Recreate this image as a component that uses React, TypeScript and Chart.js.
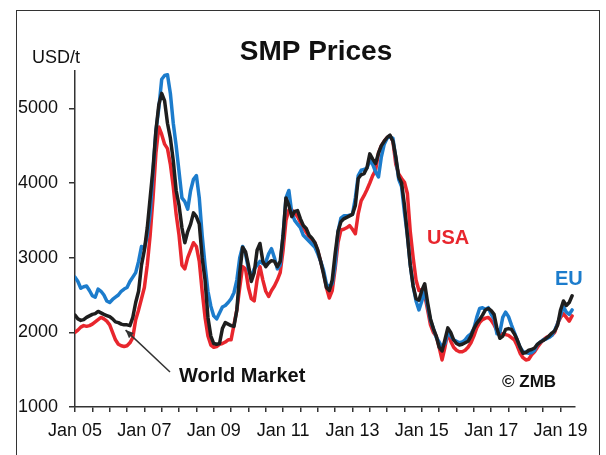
import React, { useEffect, useRef } from 'react';
import { Chart, registerables } from 'chart.js';

Chart.register(...registerables);

// Monthly SMP prices (USD/t), Jan 2005 .. May 2019 (index 0 = Jan 2005)
const tickLabels = ['Jan 05', 'Jan 07', 'Jan 09', 'Jan 11', 'Jan 13', 'Jan 15', 'Jan 17', 'Jan 19'];
const yTicks = [1000, 2000, 3000, 4000, 5000];

const worldMarket = [
  2230, 2180, 2160, 2170, 2200, 2220, 2240, 2250, 2280, 2260, 2240, 2225,
  2210, 2180, 2140, 2130, 2110, 2100, 2100, 2090, 2200, 2400, 2550, 2900,
  3100, 3400, 3800, 4200, 4700, 5050, 5200, 5100, 4800, 4600, 4300, 3900,
  3700, 3400, 3200, 3350, 3450, 3600, 3550, 3450, 3000, 2700, 2200, 1950,
  1850, 1840, 1850, 2050, 2130, 2110, 2090, 2080, 2300, 2800, 3140, 3080,
  2900, 2680, 2800, 3100, 3190, 2950, 2880, 2930, 2960, 2950, 2880, 2950,
  3300, 3800, 3700, 3550, 3620, 3630, 3520, 3430, 3390, 3300, 3260, 3200,
  3100, 2950, 2780, 2600, 2560, 2700, 3050, 3350, 3480, 3520, 3540, 3560,
  3580, 3700, 4060, 4110, 4125, 4200, 4390, 4320, 4260, 4400, 4500, 4560,
  4610, 4640, 4560, 4350, 4080, 4000, 3700, 3300, 2900, 2620, 2450, 2430,
  2560, 2650, 2400, 2180, 2050, 1950, 1800, 1750, 1900, 2060, 2000, 1900,
  1850, 1830, 1840, 1860, 1880, 1950, 2050, 2120, 2170, 2230, 2300, 2320,
  2290, 2240, 2050, 1920, 1950, 2040, 2050, 2040, 1980, 1900, 1800, 1720,
  1730, 1760, 1770, 1790, 1840, 1870, 1890, 1920, 1950, 1990, 2020, 2100,
  2300, 2420, 2360, 2400, 2490,
];

const eu = [
  2740, 2680, 2590, 2610, 2620, 2560, 2490, 2470, 2580, 2550, 2500, 2420,
  2400, 2440, 2470, 2500, 2550, 2580, 2600, 2680, 2740, 2800, 2950, 3150,
  3120, 3300, 3600, 4150, 4700, 5000, 5390, 5440, 5450, 5200, 4800, 4500,
  4150, 3800, 3750, 3650, 3900, 4050, 4100, 3800, 3300, 2900, 2550, 2350,
  2220, 2180, 2260, 2340, 2360, 2400, 2450, 2530, 2700, 3000, 3150, 3050,
  2850, 2740, 2850, 2900, 2950, 2920, 2940, 3050, 3120, 3000, 2850, 2900,
  3300, 3800, 3900, 3600, 3500, 3450, 3400, 3300, 3260, 3220, 3180, 3140,
  3050, 2950, 2830, 2650, 2600, 2650, 2900, 3350, 3530, 3560, 3560, 3570,
  3580, 3800, 4100, 4170, 4180, 4200, 4300, 4250, 4150, 4080, 4350, 4520,
  4600, 4620, 4600, 4330, 4050, 3950, 3600, 3300, 2900, 2620, 2420, 2300,
  2420, 2550, 2350, 2160, 2050, 1930, 1870, 1800, 1850, 2000, 1950, 1900,
  1880, 1860, 1870, 1900, 1950, 1980, 2050, 2200, 2320, 2330, 2310, 2330,
  2240, 2180, 1980, 2000, 2200, 2270, 2210, 2100, 2000, 1900, 1800, 1740,
  1730, 1720, 1730, 1760, 1840, 1870, 1900, 1910, 1930, 1960, 2030, 2120,
  2230, 2340, 2270, 2240, 2300,
];

const usa = [
  2000, 2030, 2070, 2090, 2080, 2090, 2110, 2140, 2170, 2200, 2180, 2150,
  2100, 2000, 1900, 1840, 1820, 1810, 1820, 1860, 1930, 2170, 2300, 2450,
  2600, 2900, 3300, 3800, 4400, 4750, 4650, 4520, 4460, 4250, 3950, 3580,
  3300, 2900, 2850, 3000, 3100, 3200, 3150, 2950, 2550, 2200, 1950, 1830,
  1800, 1810, 1840, 1850, 1870, 1900, 1900, 2100, 2300, 2600, 2880, 2850,
  2600, 2450, 2420, 2700, 2880, 2700, 2550, 2480, 2560, 2620, 2700, 2800,
  3100, 3500, 3640, 3640, 3600, 3550, 3470, 3400, 3340, 3280, 3240, 3200,
  3090, 2950, 2800, 2600, 2460, 2560, 2850, 3200, 3370, 3380, 3400, 3430,
  3380, 3320, 3590, 3760, 3830, 3910, 4000, 4100, 4170, 4400, 4500, 4560,
  4610, 4630, 4560, 4250, 4120, 4060, 4010, 3860, 3350, 3000, 2700, 2560,
  2570, 2500, 2300, 2100, 2000, 1950, 1800, 1630, 1800, 2000, 1880, 1800,
  1760, 1740, 1740, 1760, 1800, 1860, 1950, 2060, 2130, 2170, 2190, 2200,
  2160, 2100, 2020, 1990, 1980, 1970, 1960, 1930, 1900, 1820, 1720, 1660,
  1630, 1640, 1700, 1740, 1800, 1850, 1900, 1930, 1950, 1960, 2000, 2120,
  2200, 2250, 2200, 2150, 2220,
];

const FONT = '"Liberation Sans", Arial, Helvetica, sans-serif';
const RED = '#e8262d';
const BLUE = '#1c7ccc';
const BLACK = '#1e1e1e';

const toPoints = (arr: number[]) => arr.map((v, i) => ({ x: i, y: v }));

const annotations = {
  id: 'annotations',
  afterDraw(chart: any) {
    const ctx = chart.ctx as CanvasRenderingContext2D;
    const xs = chart.scales.x;
    const ys = chart.scales.y;
    ctx.save();
    ctx.textBaseline = 'alphabetic';
    ctx.textAlign = 'left';

    ctx.fillStyle = '#111';
    ctx.font = `bold 28px ${FONT}`;
    ctx.textAlign = 'center';
    ctx.fillText('SMP Prices', 316, 60);

    ctx.textAlign = 'left';
    ctx.font = `18px ${FONT}`;
    ctx.fillText('USD/t', 32, 63);

    ctx.font = `bold 20px ${FONT}`;
    ctx.fillStyle = RED;
    ctx.fillText('USA', 427, 244);
    ctx.fillStyle = BLUE;
    ctx.fillText('EU', 555, 285);
    ctx.fillStyle = '#111';
    ctx.fillText('World Market', 179, 382);
    ctx.font = `bold 17px ${FONT}`;
    ctx.fillText('\u00A9 ZMB', 502, 387);

    // arrow pointing to the World Market line
    const tx = xs.getPixelForValue(17.5);
    const ty = ys.getPixelForValue(2030);
    const sx = 170;
    const sy = 372;
    ctx.strokeStyle = '#333';
    ctx.fillStyle = '#333';
    ctx.lineWidth = 1.5;
    ctx.beginPath();
    ctx.moveTo(sx, sy);
    ctx.lineTo(tx, ty);
    ctx.stroke();
    const ang = Math.atan2(ty - sy, tx - sx);
    const L = 8;
    const W = 3.5;
    ctx.beginPath();
    ctx.moveTo(tx, ty);
    ctx.lineTo(tx - L * Math.cos(ang) + W * Math.sin(ang), ty - L * Math.sin(ang) - W * Math.cos(ang));
    ctx.lineTo(tx - L * Math.cos(ang) - W * Math.sin(ang), ty - L * Math.sin(ang) + W * Math.cos(ang));
    ctx.closePath();
    ctx.fill();
    ctx.restore();
  },
};

export default function App() {
  const ref = useRef<HTMLCanvasElement | null>(null);

  useEffect(() => {
    if (!ref.current) return;
    const chart = new Chart(ref.current, {
      type: 'line',
      data: {
        datasets: [
          { label: 'World Market', data: toPoints(worldMarket), borderColor: BLACK, borderWidth: 3.5 },
          { label: 'EU', data: toPoints(eu), borderColor: BLUE, borderWidth: 3.5 },
          { label: 'USA', data: toPoints(usa), borderColor: RED, borderWidth: 3.5 },
        ],
      },
      options: {
        animation: false,
        responsive: false,
        devicePixelRatio: 1,
        layout: { padding: { left: 0, top: 71, right: 31, bottom: 0 } },
        elements: {
          point: { radius: 0 },
          line: { tension: 0, borderJoinStyle: 'round', borderCapStyle: 'round' },
        },
        plugins: {
          legend: { display: false },
          title: { display: false },
          tooltip: { enabled: false },
        },
        scales: {
          x: {
            type: 'linear',
            min: 0,
            max: 173,
            afterFit: (s: any) => { s.height = 48; },
            afterBuildTicks: (s: any) => {
              const t: { value: number }[] = [];
              for (let m = 0; m <= 168; m += 6) t.push({ value: m });
              s.ticks = t;
            },
            border: { display: true, color: '#333', width: 1.5 },
            grid: { display: true, drawOnChartArea: false, drawTicks: true, tickLength: 5, color: '#333', lineWidth: 1.5 },
            ticks: {
              autoSkip: false,
              maxRotation: 0,
              minRotation: 0,
              padding: 8,
              color: '#111',
              font: { family: FONT, size: 18 },
              callback: (v: any) => {
                const n = Number(v);
                return n % 24 === 0 ? tickLabels[n / 24] ?? '' : '';
              },
            },
          },
          y: {
            type: 'linear',
            min: 1000,
            max: 5500,
            afterFit: (s: any) => { s.width = 75; },
            afterBuildTicks: (s: any) => {
              s.ticks = yTicks.map((v) => ({ value: v }));
            },
            border: { display: true, color: '#333', width: 1.5 },
            grid: { display: true, drawOnChartArea: false, drawTicks: true, tickLength: 6, color: '#333', lineWidth: 1.5 },
            ticks: {
              autoSkip: false,
              padding: 11,
              color: '#111',
              font: { family: FONT, size: 18 },
              callback: (v: any) => String(v),
            },
          },
        },
      },
      plugins: [annotations],
    });
    return () => chart.destroy();
  }, []);

  return (
    <div style={{ position: 'fixed', left: 0, top: 0, width: 606, height: 455, background: '#fff', overflow: 'hidden' }}>
      <div
        style={{
          position: 'absolute',
          left: 16,
          top: 10,
          width: 584,
          height: 470,
          borderLeft: '1.5px solid #333',
          borderTop: '1.5px solid #333',
          borderRight: '1.5px solid #333',
          boxSizing: 'border-box',
        }}
      />
      <canvas ref={ref} width={606} height={455} style={{ position: 'absolute', left: 0, top: 0, width: 606, height: 455 }} />
    </div>
  );
}
